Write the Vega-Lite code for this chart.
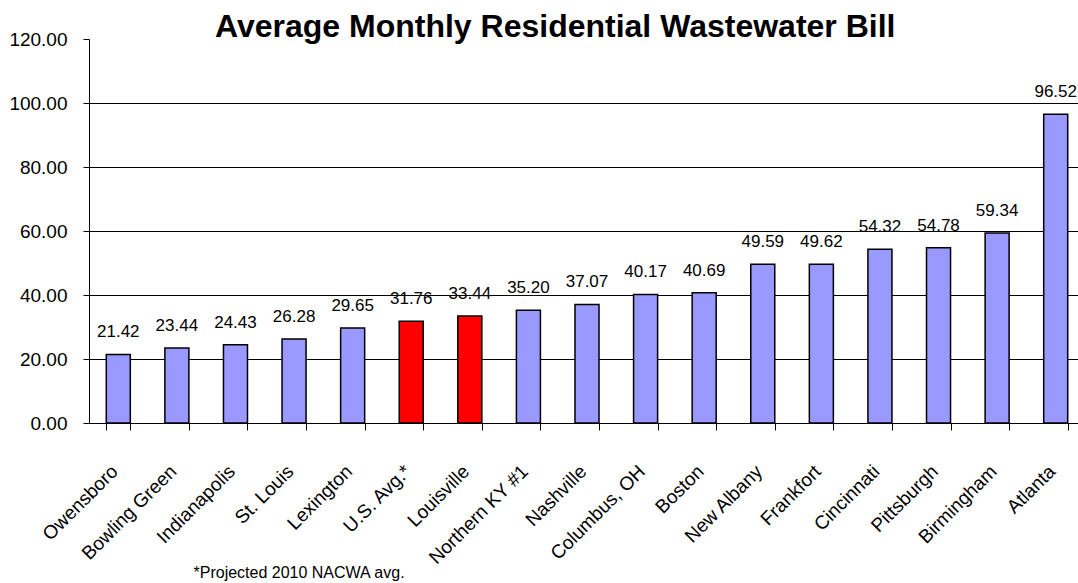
{
  "$schema": "https://vega.github.io/schema/vega-lite/v6.json",
  "autosize": {"type": "none"},
  "width": 996,
  "height": 384,
  "padding": {"left": 89, "top": 39, "right": 0, "bottom": 160},
  "background": "white",
  "config": {
    "view": {"stroke": null},
    "font": "Liberation Sans",
    "axis": {"labelFont": "Liberation Sans", "titleFont": "Liberation Sans"}
  },
  "title": {
    "text": "Average Monthly Residential Wastewater Bill",
    "anchor": "start",
    "frame": "group",
    "dx": 126,
    "dy": 39,
    "fontSize": 32,
    "fontWeight": "bold",
    "font": "Liberation Sans",
    "color": "black",
    "baseline": "alphabetic",
    "offset": 0
  },
  "data": {
    "values": [
      {"city": "Owensboro", "bill": 21.42},
      {"city": "Bowling Green", "bill": 23.44},
      {"city": "Indianapolis", "bill": 24.43},
      {"city": "St. Louis", "bill": 26.28},
      {"city": "Lexington", "bill": 29.65},
      {"city": "U.S. Avg.*", "bill": 31.76},
      {"city": "Louisville", "bill": 33.44},
      {"city": "Northern KY #1", "bill": 35.20},
      {"city": "Nashville", "bill": 37.07},
      {"city": "Columbus, OH", "bill": 40.17},
      {"city": "Boston", "bill": 40.69},
      {"city": "New Albany", "bill": 49.59},
      {"city": "Frankfort", "bill": 49.62},
      {"city": "Cincinnati", "bill": 54.32},
      {"city": "Pittsburgh", "bill": 54.78},
      {"city": "Birmingham", "bill": 59.34},
      {"city": "Atlanta", "bill": 96.52}
    ]
  },
  "encoding": {
    "x": {
      "field": "city",
      "type": "nominal",
      "sort": null,
      "scale": {"paddingInner": 0.59, "paddingOuter": 0.295},
      "axis": {
        "title": "*Projected 2010 NACWA avg.",
        "titleFontSize": 16,
        "titleFontWeight": "normal",
        "titleColor": "black",
        "titleAnchor": "start",
        "titleAlign": "left",
        "titleBaseline": "alphabetic",
        "titleX": 104,
        "titleY": 154,
        "domainColor": "black",
        "domainWidth": 1,
        "tickColor": "black",
        "tickSize": 7,
        "tickBand": "extent",
        "labelAngle": -45,
        "labelAlign": "right",
        "labelBaseline": "middle",
        "labelFontSize": 19,
        "labelColor": "black",
        "labelPadding": 38,
        "labelOffset": -4,
        "labelOverlap": false,
        "labelLimit": 300
      }
    },
    "y": {
      "field": "bill",
      "type": "quantitative",
      "scale": {"domain": [0, 120], "nice": false},
      "axis": {
        "title": null,
        "values": [0, 20, 40, 60, 80, 100, 120],
        "format": ".2f",
        "domainColor": "black",
        "tickColor": "black",
        "tickSize": 6,
        "labelFontSize": 19,
        "labelColor": "black",
        "labelPadding": 16,
        "grid": true,
        "gridColor": "black",
        "gridWidth": 1,
        "gridOpacity": {"condition": {"test": "datum.value == 120", "value": 0}, "value": 1}
      }
    }
  },
  "layer": [
    {
      "mark": {"type": "bar", "stroke": "black", "strokeWidth": 1.5},
      "encoding": {
        "color": {
          "condition": {"test": "indexof(['U.S. Avg.*', 'Louisville'], datum.city) >= 0", "value": "#FF0000"},
          "value": "#9999FF"
        }
      }
    },
    {
      "mark": {"type": "text", "baseline": "alphabetic", "dy": -17, "fontSize": 17, "color": "black"},
      "encoding": {
        "text": {"field": "bill", "type": "quantitative", "format": ".2f"},
        "fontWeight": {
          "condition": {"test": "indexof(['U.S. Avg.*', 'Louisville'], datum.city) >= 0", "value": "bold"},
          "value": "normal"
        }
      }
    }
  ]
}
